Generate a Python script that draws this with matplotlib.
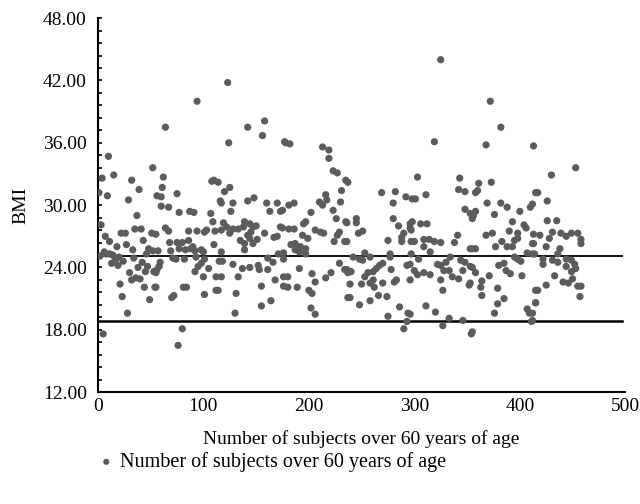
import matplotlib
matplotlib.use("Agg")
import matplotlib.pyplot as plt
from matplotlib.ticker import MultipleLocator, FormatStrFormatter

# subject index and BMI
subjects = [
    10, 4, 15, 52, 32, 1, 9, 39, 29, 56, 37, 3, 7, 11, 22, 26, 35, 41, 43, 51, 27, 33, 48, 52, 6, 8, 11, 14, 16, 2,
    13, 19, 30, 38, 47, 45, 53, 40, 32, 21, 44, 54, 23, 49, 28, 5, 17, 20, 24, 18, 34, 46, 36, 42,
    94, 64, 62, 61, 60, 60, 75, 67, 77, 87, 91, 108, 110, 116, 107, 109, 64, 67, 86, 94, 101, 103, 111, 55,
    68, 75, 80, 86, 110, 57, 69, 77, 83, 88, 90, 92, 98, 100, 71, 74, 82, 93, 101, 115, 117, 59, 58, 56, 55,
    92, 95, 98, 100, 105, 112, 55, 81, 84, 101, 112, 70, 72, 80, 76,
    123, 142, 158, 156, 124, 177, 114, 120, 125, 117, 128, 126, 142, 148, 160, 163, 170, 173,
    119, 117, 122, 125, 128, 133, 138, 139, 144, 147, 150, 142, 145, 135, 139, 139, 144, 147, 151, 158, 167, 173, 170,
    118, 128, 137, 144, 152, 153, 161, 161, 166, 171, 176, 117, 133, 168, 176, 131, 114, 155, 176, 155, 164, 130,
    178, 182, 213, 219, 219, 223, 227, 235, 231, 216, 210, 213, 217, 230, 186, 181, 175, 202, 223, 226, 235, 197,
    195, 175, 181, 186, 206, 211, 214, 194, 199, 183, 187, 192, 197, 197, 187, 191, 224, 227, 234, 229, 176, 229,
    234, 237, 191, 203, 206, 216, 221, 180, 180, 189, 200, 203, 237, 202, 206,
    237, 269, 282, 292, 298, 280, 236, 245, 245, 280, 285, 296, 297, 247, 251, 275, 288, 290, 288, 297, 236, 242,
    248, 253, 258, 251, 277, 277, 293, 297, 267, 270, 264, 261, 256, 278, 236, 240, 253, 261, 258, 270, 281, 283,
    296, 239, 250, 262, 266, 274, 239, 258, 248, 286, 294, 275, 293, 290,
    325, 319, 303, 343, 311, 301, 342, 348, 358, 348, 353, 358, 298, 306, 312, 296, 341, 338, 300, 309, 314, 319,
    325, 309, 315, 355, 304, 296, 300, 303, 309, 315, 325, 330, 334, 344, 348, 353, 322, 328, 333, 336, 342, 346,
    325, 352, 327, 296, 311, 320, 333, 327, 346, 354,
    372, 382, 368, 413, 361, 360, 373, 415, 369, 382, 388, 376, 400, 410, 356, 355, 393, 404, 406, 368, 374, 390,
    398, 413, 353, 358, 377, 383, 388, 393, 395, 398, 413, 407, 412, 398, 401, 395, 380, 385, 387, 391, 402, 355,
    358, 353, 371, 364, 363, 364, 379, 385, 379, 376, 415, 415, 407, 409, 411, 355,
    453, 430, 417, 426, 412, 426, 435, 419, 428, 431, 439, 444, 449, 455, 458, 458, 412, 425, 438, 436, 414, 422,
    422, 431, 436, 444, 449, 452, 444, 453, 449, 433, 441, 446, 450, 455, 458, 457, 425, 417, 415, 412, 412,
]
bmi = [
    34.7, 32.6, 32.9, 33.6, 32.4, 31.2, 30.9, 31.5, 30.5, 30.9, 29.0, 28.1, 27.0, 26.5, 27.3, 27.3, 27.7, 27.7, 26.6, 27.3, 26.2, 25.7, 25.8, 25.6, 25.5, 25.3, 25.3, 25.2, 25.0, 25.1,
    24.4, 24.2, 23.5, 24.0, 24.1, 23.6, 23.6, 22.9, 22.8, 22.4, 22.1, 22.1, 21.2, 20.9, 19.6, 17.6, 24.8, 25.0, 24.6, 26.0, 24.9, 25.3, 23.0, 24.5,
    40.0, 37.5, 32.7, 31.7, 30.8, 29.9, 31.1, 29.8, 29.3, 29.4, 29.3, 32.3, 32.4, 30.4, 29.2, 28.4, 27.8, 27.5, 27.5, 27.5, 27.4, 27.6, 27.5, 27.2,
    26.4, 26.4, 26.4, 26.6, 26.2, 25.6, 25.6, 25.8, 25.7, 25.8, 26.0, 25.6, 25.7, 25.5, 24.9, 24.8, 24.8, 25.0, 24.8, 24.6, 25.5, 24.5, 24.1, 23.8, 23.5,
    23.6, 24.1, 24.4, 23.1, 23.9, 23.1, 22.1, 22.1, 22.1, 21.4, 21.8, 21.1, 21.3, 18.1, 16.5,
    41.8, 37.5, 38.1, 36.7, 36.0, 36.1, 32.2, 31.3, 31.7, 30.2, 30.2, 29.4, 30.4, 30.7, 30.2, 29.4, 30.2, 29.4,
    28.3, 27.6, 27.9, 27.3, 27.7, 27.7, 27.9, 28.4, 28.2, 27.9, 28.0, 27.1, 27.4, 26.6, 26.3, 25.7, 26.8, 26.3, 26.7, 27.3, 26.9, 27.9, 27.0,
    24.6, 24.3, 23.9, 24.0, 24.2, 23.8, 23.8, 24.9, 24.5, 25.3, 25.4, 23.1, 23.1, 22.8, 23.1, 21.5, 21.8, 22.2, 22.2, 20.3, 20.8, 19.6,
    36.0, 35.9, 35.6, 35.3, 34.5, 33.3, 33.1, 32.4, 31.4, 31.0, 30.3, 30.0, 30.5, 30.3, 30.2, 30.0, 29.5, 29.3, 29.5, 28.7, 28.4, 28.4,
    28.2, 27.8, 27.7, 27.7, 27.6, 27.4, 27.3, 27.1, 26.8, 26.2, 26.3, 26.0, 25.8, 25.3, 25.7, 25.5, 26.5, 27.1, 26.5, 27.4, 24.8, 24.4,
    23.8, 23.5, 23.9, 23.4, 22.6, 23.0, 23.5, 23.1, 22.1, 22.1, 21.8, 21.5, 21.1, 20.1, 19.5,
    32.2, 31.2, 31.3, 30.8, 30.6, 30.2, 28.3, 28.7, 28.3, 28.7, 28.0, 28.2, 27.6, 27.3, 27.5, 26.6, 26.9, 27.3, 26.5, 26.5, 26.5, 25.0,
    24.8, 25.4, 25.0, 24.7, 25.3, 25.0, 24.2, 25.3, 24.2, 24.4, 23.9, 23.6, 23.5, 23.8, 23.8, 23.6, 23.1, 22.8, 22.5, 22.5, 22.6, 22.8,
    22.8, 22.4, 22.4, 22.1, 21.3, 21.2, 21.1, 20.8, 20.4, 20.2, 19.6, 19.3, 18.8, 18.1,
    44.0, 36.1, 32.7, 32.6, 31.0, 30.6, 31.5, 31.3, 31.2, 29.6, 29.2, 29.4, 28.4, 28.2, 28.2, 27.8, 27.1, 26.4, 26.5, 26.7, 26.7, 26.5,
    26.4, 26.0, 25.5, 25.8, 24.8, 24.3, 23.7, 23.3, 23.5, 23.3, 24.2, 24.5, 25.0, 24.7, 24.5, 24.1, 24.3, 23.7, 23.7, 23.1, 22.9, 23.7,
    22.8, 22.3, 21.8, 19.5, 20.3, 19.7, 19.1, 18.4, 18.9, 17.6,
    40.0, 37.5, 35.8, 35.7, 32.1, 31.4, 32.2, 31.2, 30.2, 30.2, 29.8, 29.1, 29.4, 29.8, 29.0, 28.7, 28.4, 28.1, 27.8, 27.1, 27.3, 27.5,
    27.3, 27.2, 25.8, 25.8, 26.0, 26.5, 26.0, 26.0, 26.6, 26.8, 26.3, 25.4, 25.3, 24.8, 24.6, 25.0, 24.2, 24.4, 23.7, 23.4, 23.2, 24.0,
    23.5, 22.5, 23.2, 22.7, 22.1, 21.3, 22.0, 21.0, 20.5, 19.6, 21.8, 20.6, 20.0, 19.6, 18.8, 17.8,
    33.6, 32.9, 31.2, 30.4, 30.1, 28.5, 28.5, 27.1, 26.8, 27.4, 27.3, 27.0, 27.3, 27.3, 26.7, 26.3, 26.3, 26.0, 25.8, 25.3, 25.3, 24.8,
    24.3, 24.7, 24.5, 24.8, 24.7, 24.3, 24.1, 23.9, 23.6, 23.2, 22.6, 22.5, 22.9, 22.2, 22.2, 21.2, 22.3, 21.8, 20.6, 19.6, 18.9,
]

# reference lines
upper_line = 25.1
lower_line = 18.85
line_end = 497

plt.rcParams['font.family'] = ['Liberation Serif', 'DejaVu Serif']

fig = plt.figure(figsize=(6.4, 5.04), dpi=100)
ax = fig.add_axes([0.153, 0.222, 0.824, 0.742])

ax.scatter(subjects, bmi, s=27, color='#5c5c5c', edgecolors='none',
           label='Number of subjects over 60 years of age', zorder=3)
ax.plot([0, line_end], [upper_line, upper_line], color='black', lw=1.3, zorder=2)
ax.plot([0, line_end], [lower_line, lower_line], color='black', lw=1.8, zorder=2)

ax.set_xlim(0, 500)
ax.set_ylim(12, 48)
ax.yaxis.set_major_locator(MultipleLocator(6))
ax.yaxis.set_minor_locator(MultipleLocator(1.2))
ax.yaxis.set_major_formatter(FormatStrFormatter('%.2f'))
ax.xaxis.set_major_locator(MultipleLocator(100))

ax.tick_params(axis='y', which='both', direction='in', length=3, width=1.2, labelsize=14, pad=8)
ax.tick_params(axis='x', length=0, labelsize=14, pad=4)

for side in ['top', 'right']:
    ax.spines[side].set_visible(False)
for side in ['left', 'bottom']:
    ax.spines[side].set_linewidth(1.5)

ax.set_xlabel('Number of subjects over 60 years of age', fontsize=14, labelpad=11)
ax.set_ylabel('BMI', fontsize=14, labelpad=10)

fig.legend(loc='center left', bbox_to_anchor=(0.122, 0.083), frameon=False, fontsize=14.5,
           handletextpad=0.2, handlelength=1.0, markerscale=0.85)

fig.savefig('out.png', dpi=100)
